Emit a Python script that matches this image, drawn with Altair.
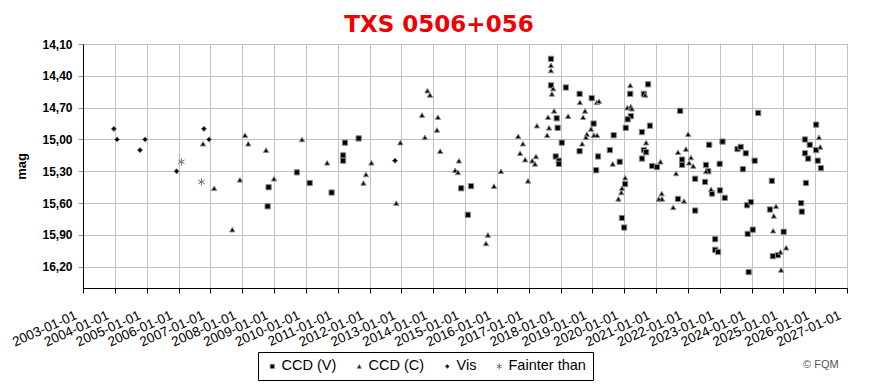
import altair as alt
import pandas as pd

# ---- data (decimal year, magnitude) ----
ccdv_year = [2008.83, 2008.80, 2009.72, 2010.12, 2010.81, 2011.17, 2011.17, 2011.23, 2011.66,
             2014.88, 2015.19, 2015.09,
             2017.70, 2017.70, 2017.88, 2017.91, 2018.04, 2017.85, 2017.95, 2017.95, 2018.17,
             2018.60, 2018.98, 2019.04, 2019.67, 2018.60, 2019.18, 2019.55, 2019.12, 2019.86,
             2020.19, 2020.75, 2020.62, 2020.21, 2020.11, 2020.05, 2020.81, 2020.56, 2020.62,
             2020.69, 2020.56, 2020.88, 2021.03, 2020.03, 2019.93, 2020.00,
             2021.76, 2021.82, 2021.82, 2021.69, 2022.23, 2022.23, 2022.67, 2023.09, 2022.57,
             2022.64, 2022.54, 2022.76, 2023.00, 2023.01, 2023.16, 2022.86, 2022.86, 2022.95,
             2023.56, 2023.66, 2023.82, 2023.73, 2024.10, 2024.21, 2023.86, 2023.98, 2023.88,
             2024.04, 2023.91, 2024.64, 2024.58, 2025.01, 2024.83, 2024.67,
             2026.03, 2026.03, 2025.68, 2025.68, 2025.83, 2025.78, 2026.08, 2026.18, 2025.71,
             2025.56, 2025.58]
ccdv_mag = [15.45, 15.63, 15.31, 15.41, 15.50, 15.15, 15.20, 15.03, 14.99,
            15.46, 15.44, 15.71,
            14.24, 14.49, 14.80, 14.89, 15.03, 15.16, 15.20, 15.23, 14.51,
            14.57, 14.61, 14.85, 14.96, 15.11, 15.16, 15.10, 15.29, 15.21,
            14.57, 14.48, 14.57, 14.78, 14.81, 14.89, 14.87, 14.93, 15.10,
            15.12, 15.18, 15.25, 15.26, 15.42, 15.74, 15.83,
            14.73, 15.19, 15.24, 15.56, 15.37, 15.67, 15.05, 15.02, 15.24,
            15.30, 15.40, 15.51, 15.23, 15.48, 15.55, 15.94, 16.04, 16.06,
            15.09, 15.07, 15.13, 15.28, 15.20, 14.75, 15.62, 15.59, 15.89,
            15.85, 16.25, 15.39, 15.66, 15.87, 16.09, 16.10,
            14.86, 15.10, 15.00, 15.13, 15.05, 15.18, 15.20, 15.27, 15.41,
            15.60, 15.68]

ccdc_year = [2006.77, 2007.12, 2007.69, 2007.93, 2008.09, 2008.19, 2008.75, 2009.00, 2009.88,
             2010.67, 2011.81, 2011.89, 2012.06, 2012.84, 2012.97,
             2013.82, 2013.90, 2013.65, 2014.15, 2014.12, 2013.74, 2014.22, 2014.81, 2014.69,
             2014.78, 2015.72, 2015.66, 2015.91, 2016.13,
             2016.67, 2016.82, 2016.73, 2016.89, 2016.98, 2017.11, 2017.20, 2017.23, 2017.26,
             2017.61, 2017.64, 2017.58, 2017.70, 2017.70, 2017.77, 2017.73, 2017.80,
             2018.24, 2018.61, 2018.77, 2018.71, 2019.14, 2019.21, 2018.96, 2018.83, 2018.80,
             2019.05, 2019.15, 2018.68, 2019.64,
             2020.19, 2020.66, 2020.10, 2020.21, 2020.24, 2020.69, 2021.14, 2020.03, 2019.93,
             2019.91, 2019.82, 2021.18, 2021.09, 2021.19,
             2022.01, 2021.69, 2021.94, 2022.10, 2022.04, 2022.17, 2021.63, 2021.88, 2021.54,
             2022.57, 2022.73,
             2024.77, 2024.70, 2024.68, 2025.09, 2024.91, 2024.93, 2026.12, 2026.16]
ccdc_mag = [15.04, 15.46, 15.85, 15.38, 14.96, 15.04, 15.10, 15.37, 15.00,
            15.22, 15.41, 15.33, 15.22, 15.60, 15.03,
            14.54, 14.58, 14.77, 14.79, 14.91, 14.98, 15.11, 15.20, 15.29,
            15.31, 15.90, 15.98, 15.44, 15.30,
            14.97, 15.04, 15.13, 15.19, 15.39, 15.20, 15.23, 15.16, 14.87,
            14.79, 14.89, 14.96, 14.30, 14.35, 14.52, 14.57, 14.73,
            14.78, 14.65, 14.73, 14.79, 14.65, 14.64, 14.90, 14.95, 14.98,
            14.96, 14.96, 15.04, 15.23,
            14.49, 14.58, 14.70, 14.69, 14.71, 15.03, 15.21, 15.36, 15.46,
            15.50, 15.56, 15.51, 15.56, 15.56,
            14.95, 15.12, 15.09, 15.17, 15.22, 15.25, 15.32, 15.58, 15.64,
            15.30, 15.47,
            15.63, 15.72, 15.86, 16.02, 16.06, 16.23, 14.98, 15.07]

vis_year = [2003.97, 2004.07, 2004.79, 2004.95, 2005.94, 2006.80, 2006.96, 2012.80]
vis_mag = [14.90, 15.00, 15.10, 15.00, 15.30, 14.90, 15.00, 15.20]

fainter_year = [2006.09, 2006.72]
fainter_mag = [15.21, 15.40]

series_names = ["CCD (V)", "CCD (C)", "Vis", "Fainter than"]
y_ticks = [14.10, 14.40, 14.70, 15.00, 15.30, 15.60, 15.90, 16.20]
x_ticks = list(range(2003, 2028))
title_text = "TXS 0506+056"
credit_text = "© FQM"

rows = []
for name, ys, ms in zip(series_names,
                        [ccdv_year, ccdc_year, vis_year, fainter_year],
                        [ccdv_mag, ccdc_mag, vis_mag, fainter_mag]):
    for yr, m in zip(ys, ms):
        rows.append({"year": yr, "mag": m, "series": name})
df = pd.DataFrame(rows)

asterisk = "M0,-1.4L0,1.4M-1.2,-0.7L1.2,0.7M-1.2,0.7L1.2,-0.7"

W, H = 764, 244

points = alt.Chart(df).mark_point(
    filled=True, size=28, strokeWidth=1, opacity=1
).encode(
    x=alt.X("year:Q",
            scale=alt.Scale(domain=[2003, 2027], nice=False, zero=False),
            axis=alt.Axis(values=x_ticks, labelExpr="datum.value + '-01-01'",
                          labelAngle=-24, labelAlign="right", labelBaseline="top",
                          labelPadding=15, labelOffset=-10, labelOverlap=False,
                          labelFlush=False, labelFont="Liberation Sans",
                          labelFontSize=13.5, labelColor="black",
                          tickSize=5, tickColor="black", domainColor="black",
                          gridColor="#c0c0c0", title=None)),
    y=alt.Y("mag:Q",
            scale=alt.Scale(domain=[14.1, 16.4], reverse=True, nice=False, zero=False),
            axis=alt.Axis(values=y_ticks,
                          labelExpr="replace(format(datum.value, '.2f'), '.', ',')",
                          labelFont="Liberation Sans", labelFontSize=12,
                          labelFontWeight="bold", labelColor="black", labelPadding=6,
                          tickSize=5, tickColor="#909090", domainColor="black",
                          gridColor="#c0c0c0", title="mag",
                          titleFont="Liberation Sans", titleFontSize=13,
                          titleFontWeight="bold", titleColor="black",
                          titleAngle=-90, titleX=-62, titleY=122,
                          titleAlign="center", titleBaseline="middle")),
    shape=alt.Shape("series:N",
                    scale=alt.Scale(domain=series_names,
                                    range=["square", "triangle-up", "diamond", asterisk]),
                    legend=alt.Legend(orient="none", legendX=175, legendY=308,
                                      direction="horizontal", columns=4, title=None,
                                      strokeColor="black", fillColor="white",
                                      padding=7, columnPadding=15, labelOffset=2,
                                      labelFont="Liberation Sans", labelFontSize=14.5,
                                      labelColor="black", symbolSize=18,
                                      symbolStrokeWidth=1)),
    fill=alt.Fill("series:N",
                  scale=alt.Scale(domain=series_names,
                                  range=["black", "black", "black", "#808080"])),
    stroke=alt.Stroke("series:N",
                      scale=alt.Scale(domain=series_names,
                                      range=["#8c8c8c", "#8c8c8c", "#8c8c8c", "#707070"])),
)

title = alt.Chart(pd.DataFrame({"t": [title_text]})).mark_text(
    font="DejaVu Sans", fontSize=23, fontWeight="bold", color="#ee0000",
    align="center", baseline="alphabetic"
).encode(x=alt.value(356), y=alt.value(-12), text="t:N")

credit = alt.Chart(pd.DataFrame({"t": [credit_text]})).mark_text(
    font="Liberation Sans", fontSize=11, color="#555555",
    align="left", baseline="alphabetic"
).encode(x=alt.value(720), y=alt.value(324), text="t:N")

chart = alt.layer(points, title, credit).properties(
    width=W, height=H,
    autosize=alt.AutoSizeParams(type="none"),
    padding={"left": 83, "top": 44, "right": 26, "bottom": 103},
    background="white",
).configure_view(stroke="#808080", strokeWidth=1)

chart.save("out.html", embed_options={"renderer": "svg", "actions": False})
